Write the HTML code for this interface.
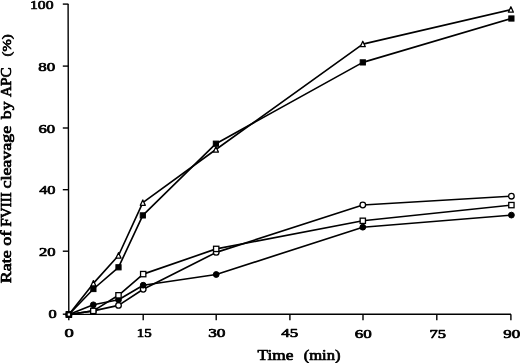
<!DOCTYPE html>
<html><head><meta charset="utf-8"><title>Rate of FVIII cleavage by APC</title>
<style>
html,body{margin:0;padding:0;background:#fff;}
body{width:520px;height:363px;overflow:hidden;}
svg{display:block;}
text{font-family:"Liberation Serif",serif;fill:#000;}
.n{font-size:13.0px;stroke:#000;stroke-width:0.7;stroke-linejoin:round;}
.t{font-size:14.4px;stroke:#000;stroke-width:0.7;stroke-linejoin:round;}
.l{fill:none;stroke:#000;stroke-width:1.65;stroke-linejoin:round;}
.a{fill:none;stroke:#000;stroke-width:1.4;}
.o{fill:#fff;stroke:#000;stroke-width:1.3;}
.z{stroke-width:1.7;}
.r{stroke-width:1.3;stroke-linejoin:round;}
.f{fill:#000;stroke:#000;stroke-width:1;}
</style></head><body>
<svg width="520" height="363" viewBox="0 0 520 363">
<rect width="520" height="363" fill="#fff"/>

<path class="a" d="M68.1,4.1 L68.8,314.4 L511,314.2"/>
<path class="a" d="M62.8,4.1 H68.4"/>
<path class="a" d="M62.8,66.1 H68.4"/>
<path class="a" d="M62.8,128.0 H68.4"/>
<path class="a" d="M62.8,189.7 H68.4"/>
<path class="a" d="M62.8,251.2 H68.4"/>
<path class="a" d="M62.8,314.2 H68.4"/>
<path class="a" d="M68.8,314.2 V320.2"/>
<path class="a" d="M143.2,314.2 V320.2"/>
<path class="a" d="M216.2,314.2 V320.2"/>
<path class="a" d="M289.9,314.2 V320.2"/>
<path class="a" d="M363.0,314.2 V320.2"/>
<path class="a" d="M436.8,314.2 V320.2"/>
<path class="a" d="M510.9,314.2 V320.2"/>
<polyline class="l" points="68.9,314.5 93.3,310.9 118.5,305.4 143.2,289.3 216.2,252.4 362.8,205.0 511.4,196.2"/>
<polyline class="l" points="68.9,314.5 93.3,304.8 118.5,299.8 143.2,285.2 216.2,274.5 362.8,227.2 511.4,215.1"/>
<polyline class="l" points="68.9,314.5 93.3,310.9 118.5,295.3 143.2,274.1 216.2,248.9 362.8,220.8 511.4,205.1"/>
<polyline class="l" points="68.9,314.5 93.4,289.0 118.5,267.3 142.8,215.4 215.9,143.7 362.8,62.4 511.4,18.5"/>
<polyline class="l" points="68.9,314.5 93.4,283.4 118.5,255.5 142.8,202.7 215.9,149.5 362.8,44.1 510.9,9.6"/>
<circle class="o" cx="68.9" cy="314.5" r="2.8"/><circle class="o" cx="93.3" cy="310.9" r="2.8"/><circle class="o" cx="118.5" cy="305.4" r="2.8"/><circle class="o" cx="143.2" cy="289.3" r="2.8"/><circle class="o" cx="216.2" cy="252.4" r="2.8"/><circle class="o" cx="362.8" cy="205.0" r="2.8"/><circle class="o" cx="511.4" cy="196.2" r="2.8"/>
<circle class="f" cx="68.9" cy="314.5" r="2.9"/><circle class="f" cx="93.3" cy="304.8" r="2.9"/><circle class="f" cx="118.5" cy="299.8" r="2.9"/><circle class="f" cx="143.2" cy="285.2" r="2.9"/><circle class="f" cx="216.2" cy="274.5" r="2.9"/><circle class="f" cx="362.8" cy="227.2" r="2.9"/><circle class="f" cx="511.4" cy="215.1" r="2.9"/>
<rect class="o" x="66.25" y="311.85" width="5.3" height="5.3"/><rect class="o" x="90.65" y="308.25" width="5.3" height="5.3"/><rect class="o" x="115.85" y="292.65" width="5.3" height="5.3"/><rect class="o" x="140.55" y="271.45" width="5.3" height="5.3"/><rect class="o" x="213.55" y="246.25" width="5.3" height="5.3"/><rect class="o" x="360.15" y="218.15" width="5.3" height="5.3"/><rect class="o" x="508.75" y="202.45" width="5.3" height="5.3"/>
<rect class="f" x="66.30" y="311.90" width="5.2" height="5.2"/><rect class="f" x="90.80" y="286.40" width="5.2" height="5.2"/><rect class="f" x="115.90" y="264.70" width="5.2" height="5.2"/><rect class="f" x="140.20" y="212.80" width="5.2" height="5.2"/><rect class="f" x="213.30" y="141.10" width="5.2" height="5.2"/><rect class="f" x="360.20" y="59.80" width="5.2" height="5.2"/><rect class="f" x="508.80" y="15.90" width="5.2" height="5.2"/>
<path class="o r" d="M68.90,311.70 L71.40,317.10 L66.40,317.10 Z"/><path class="o r" d="M93.40,280.60 L95.90,286.00 L90.90,286.00 Z"/><path class="o r" d="M118.50,252.70 L121.00,258.10 L116.00,258.10 Z"/><path class="o r" d="M142.80,199.90 L145.30,205.30 L140.30,205.30 Z"/><path class="o r" d="M215.90,146.70 L218.40,152.10 L213.40,152.10 Z"/><path class="o r" d="M362.80,41.30 L365.30,46.70 L360.30,46.70 Z"/><path class="o r" d="M510.90,6.80 L513.40,12.20 L508.40,12.20 Z"/>
<rect class="o z" x="66.90" y="312.50" width="4.0" height="4.0"/>
<text class="n" x="30.0" y="8.8" textLength="23.5" lengthAdjust="spacingAndGlyphs">100</text>
<text class="n" x="38.2" y="70.9" textLength="16.9" lengthAdjust="spacingAndGlyphs">80</text>
<text class="n" x="38.5" y="132.8" textLength="16.6" lengthAdjust="spacingAndGlyphs">60</text>
<text class="n" x="39.2" y="194.3" textLength="16.3" lengthAdjust="spacingAndGlyphs">40</text>
<text class="n" x="38.9" y="256.1" textLength="16.6" lengthAdjust="spacingAndGlyphs">20</text>
<text class="n" x="48.5" y="317.5" textLength="8.2" lengthAdjust="spacingAndGlyphs">0</text>
<text class="n" x="64.5" y="336.6" textLength="9.3" lengthAdjust="spacingAndGlyphs">0</text>
<text class="n" x="136.8" y="336.8" textLength="14.9" lengthAdjust="spacingAndGlyphs">15</text>
<text class="n" x="208.2" y="337.1" textLength="17.3" lengthAdjust="spacingAndGlyphs">30</text>
<text class="n" x="281.2" y="337.4" textLength="16.9" lengthAdjust="spacingAndGlyphs">45</text>
<text class="n" x="354.7" y="337.6" textLength="17.0" lengthAdjust="spacingAndGlyphs">60</text>
<text class="n" x="429.4" y="337.9" textLength="16.5" lengthAdjust="spacingAndGlyphs">75</text>
<text class="n" x="503.2" y="338.2" textLength="16.9" lengthAdjust="spacingAndGlyphs">90</text>
<text class="t" x="257.6" y="359.5" textLength="35.8" lengthAdjust="spacingAndGlyphs">Time</text>
<text class="t" x="303.7" y="359.5" textLength="36.8" lengthAdjust="spacingAndGlyphs">(min)</text>
<text class="t" transform="translate(11.4,283.3) rotate(-90)" x="0" y="0" textLength="32.9" lengthAdjust="spacingAndGlyphs">Rate</text>
<text class="t" transform="translate(11.4,245.7) rotate(-90)" x="0" y="0" textLength="15.2" lengthAdjust="spacingAndGlyphs">of</text>
<text class="t" transform="translate(11.4,226.7) rotate(-90)" x="0" y="0" textLength="34.6" lengthAdjust="spacingAndGlyphs">FVIII</text>
<text class="t" transform="translate(11.4,188.6) rotate(-90)" x="0" y="0" textLength="62.9" lengthAdjust="spacingAndGlyphs">cleavage</text>
<text class="t" transform="translate(11.4,119.2) rotate(-90)" x="0" y="0" textLength="17.7" lengthAdjust="spacingAndGlyphs">by</text>
<text class="t" transform="translate(11.4,97.0) rotate(-90)" x="0" y="0" textLength="29.5" lengthAdjust="spacingAndGlyphs">APC</text>
<text class="t" style="font-size:13.4px" transform="translate(11.4,56.4) rotate(-90)" x="0" y="0" textLength="22.1" lengthAdjust="spacingAndGlyphs">(%)</text>
</svg></body></html>
